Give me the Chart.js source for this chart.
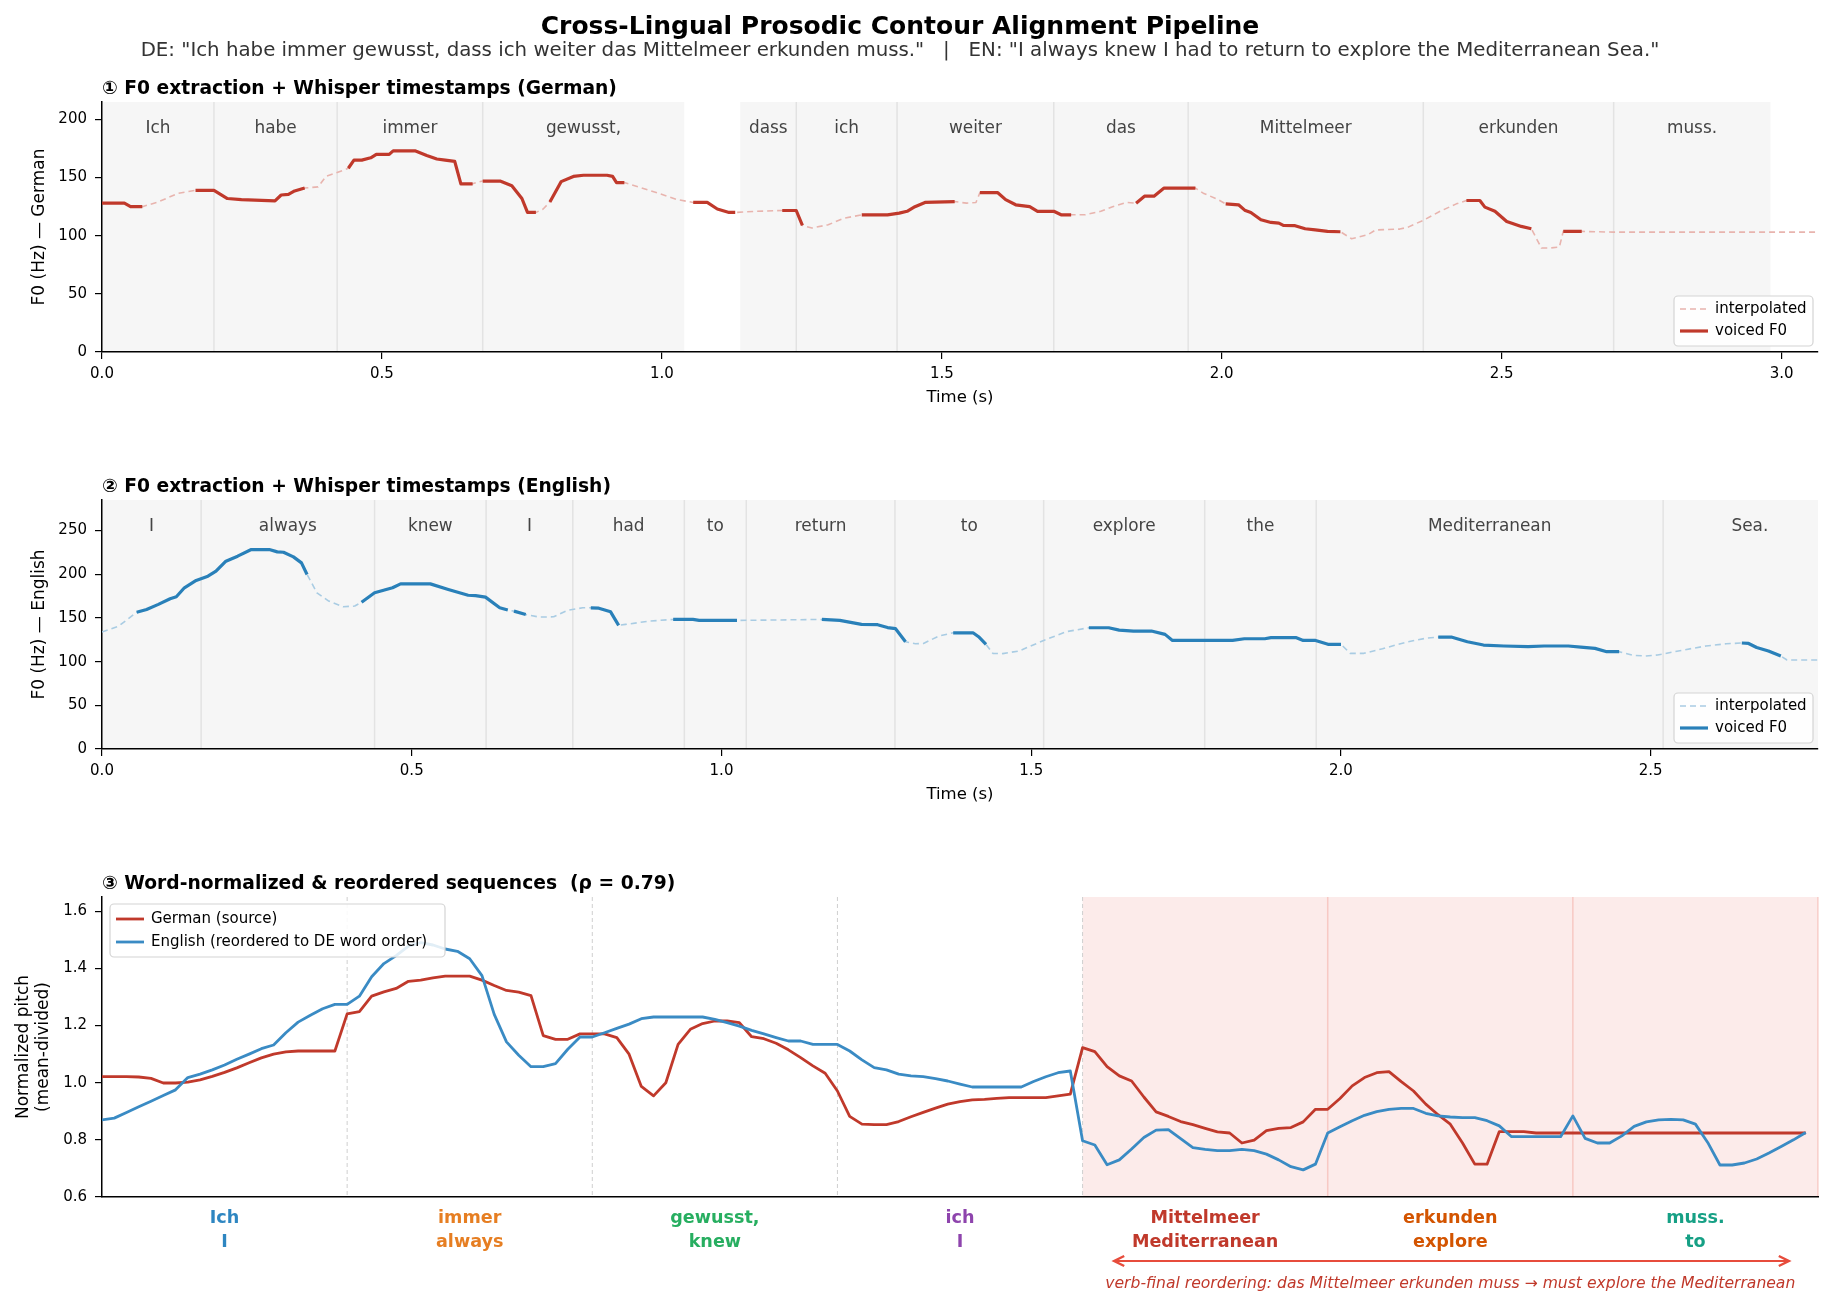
<!DOCTYPE html>
<html>
<head>
<meta charset="utf-8">
<script src="https://cdn.jsdelivr.net/npm/chart.js@4.4.1/dist/chart.umd.min.js"></script>
<style>
  body { margin: 0; background: #fff; width: 1833px; height: 1307px; position: relative; overflow: hidden; font-family: "DejaVu Sans", sans-serif; }
  canvas { position: absolute; left: 0; }
  #title { position: absolute; left: 0; top: 11px; width: 1800px; text-align: center; font-weight: bold; font-size: 25px; color: #000; }
  #subtitle { position: absolute; left: 0; top: 38px; width: 1800px; text-align: center; font-size: 19.8px; color: #333; white-space: pre; }
</style>
</head>
<body>
<canvas id="c1" width="1833" height="430" style="top:0px"></canvas>
<canvas id="c2" width="1833" height="410" style="top:430px"></canvas>
<canvas id="c3" width="1833" height="467" style="top:840px"></canvas>
<div id="title">Cross-Lingual Prosodic Contour Alignment Pipeline</div>
<div id="subtitle">DE: "Ich habe immer gewusst, dass ich weiter das Mittelmeer erkunden muss."   |   EN: "I always knew I had to return to explore the Mediterranean Sea."</div>
<script>
// ---- German F0 contour (s, Hz) ----
const deTime = [
  0.000,0.040,0.051,0.072,0.100,0.136,0.167,0.200,0.224,0.249,
  0.309,0.320,0.333,0.344,0.362,0.386,0.400,0.418,0.440,0.450,
  0.464,0.480,0.490,0.513,0.520,0.559,0.580,0.598,0.613,0.630,
  0.641,0.662,0.671,0.680,0.711,0.732,0.750,0.760,0.775,0.788,
  0.800,0.820,0.842,0.860,0.902,0.912,0.919,0.933,0.958,0.993,
  1.028,1.056,1.081,1.099,1.120,1.131,1.169,1.215,1.240,1.251,
  1.268,1.297,1.325,1.357,1.403,1.424,1.438,1.452,1.470,1.523,
  1.544,1.561,1.568,1.600,1.614,1.632,1.657,1.671,1.700,1.713,
  1.731,1.756,1.784,1.805,1.830,1.847,1.862,1.879,1.897,1.953,
  1.967,1.994,2.007,2.030,2.041,2.052,2.070,2.088,2.102,2.110,
  2.131,2.149,2.167,2.189,2.212,2.232,2.261,2.275,2.318,2.333,
  2.362,2.390,2.419,2.437,2.461,2.470,2.488,2.509,2.535,2.553,
  2.571,2.585,2.603,2.610,2.643,2.700,3.065
];
const deHz = [
  128,128,125,125,129,136.5,139,139,132,131,
  130,135,135.5,138.5,141,142,151,154,158,165,
  165,167,170,170,173,173,169,166,165,164,
  144.6,144.6,146,147,147,143,132,120,120,123,
  129,146.5,151,152,152,151,145.7,145.7,142,136.6,
  131,128.6,128.6,123,120,120,121,121.7,121.7,108.9,
  106.6,109.4,115,118,118,119.4,121,125,128.6,129.4,
  128,128.6,137,137,131,126.6,125,121,121,118,
  118,118,121,125,128.6,128,134,134,141,141,
  136.6,131,127.4,126.6,122,120,113.7,111.4,110.9,108.9,
  108.6,106,105,103.7,103.4,97.4,100.9,105,105.7,107.4,
  113.7,121,127.4,130.3,130.3,124.6,121,112.3,108,106,
  89.4,89.4,90.3,103.7,103.7,103.1,103.1
];
const deVoiced = [
  [0,0.072],[0.167,0.362],[0.440,0.662],[0.680,0.775],[0.800,0.933],[1.056,1.131],
  [1.215,1.251],[1.357,1.523],[1.568,1.731],[1.847,1.953],[2.007,2.212],[2.437,2.553],[2.610,2.643]
];
const deWords = ['Ich','habe','immer','gewusst,','dass','ich','weiter','das','Mittelmeer','erkunden','muss.'];
const deStart = [0.00,0.20,0.42,0.68,1.14,1.24,1.42,1.70,1.94,2.36,2.70];
const deEnd   = [0.20,0.42,0.68,1.04,1.24,1.42,1.70,1.94,2.36,2.70,2.98];

// ---- English F0 contour (s, Hz) ----
const enTime = [
  0.000,0.027,0.056,0.072,0.091,0.110,0.120,0.133,0.152,0.171,
  0.184,0.200,0.219,0.241,0.270,0.283,0.293,0.309,0.322,0.331,
  0.347,0.366,0.389,0.408,0.419,0.440,0.469,0.482,0.530,0.559,
  0.591,0.603,0.619,0.642,0.655,0.660,0.665,0.684,0.706,0.729,
  0.751,0.776,0.789,0.802,0.821,0.834,0.845,0.884,0.922,0.954,
  0.964,1.025,1.080,1.162,1.191,1.226,1.252,1.268,1.281,1.297,
  1.313,1.326,1.351,1.374,1.406,1.415,1.427,1.438,1.454,1.480,
  1.518,1.556,1.593,1.625,1.642,1.665,1.694,1.716,1.728,1.825,
  1.844,1.877,1.887,1.928,1.939,1.959,1.979,2.000,2.015,2.037,
  2.067,2.106,2.139,2.157,2.178,2.204,2.230,2.263,2.302,2.328,
  2.367,2.387,2.410,2.429,2.449,2.472,2.492,2.511,2.550,2.589,
  2.622,2.647,2.658,2.671,2.690,2.710,2.720,2.770
];
const enHz = [
  133.9,140.7,156.5,159.7,165.5,172,174.2,184.5,192.9,197.8,
  203.5,215,220.7,228.3,228.3,225.6,225.2,219.9,213,199.7,
  178.8,169.3,162.8,163.6,168,178.8,184.5,189,189,182.6,
  176,175.6,173.8,161.6,159,158.4,157.8,154,151,151.3,
  158.6,161.6,161.6,161.2,157,141.5,142.6,146.4,148.3,148.3,
  147.2,147.2,147.6,148.3,147.2,142.6,142.3,139,137.7,122.8,
  120.5,120.8,129.3,133,133,128.5,119.8,109.5,109.2,112.1,
  123.6,134.2,138.8,138.8,136.1,135,135,131.2,124.3,124.3,
  126.2,126.2,127.4,127.4,124.3,124.3,119.8,119.8,109.5,109.5,
  114.8,122.4,127,128.1,128.1,122.8,119,117.9,117.1,117.9,
  117.9,116.7,115.2,111.4,111.4,107.2,106.4,107.6,112.9,117.9,
  120.5,121.3,120.8,116.2,112.1,106.4,101.9,101.9
];
const enVoiced = [
  [0.056,0.331],[0.419,0.655],[0.665,0.684],[0.789,0.834],[0.922,1.025],
  [1.162,1.297],[1.374,1.427],[1.593,2.000],[2.157,2.449],[2.647,2.710]
];
const enWords = ['I','always','knew','I','had','to','return','to','explore','the','Mediterranean','Sea.'];
const enStart = [0.00,0.16,0.44,0.62,0.76,0.94,1.04,1.28,1.52,1.78,1.96,2.52];
const enEnd   = [0.16,0.44,0.62,0.76,0.94,1.04,1.28,1.52,1.78,1.96,2.52,2.80];

// ---- Word-normalized sequences (20 samples per word, DE order) ----
const normDe = [
  1.021,1.021,1.021,1.020,1.015,0.999,0.999,1.002,1.010,1.022,1.036,1.052,1.070,1.087,1.100,1.108,1.111,1.111,1.111,1.111,
  1.241,1.249,1.303,1.318,1.330,1.355,1.359,1.367,1.373,1.373,1.373,1.359,1.340,1.323,1.317,1.305,1.165,1.152,1.152,1.171,
  1.171,1.171,1.158,1.100,0.987,0.954,1.000,1.134,1.187,1.207,1.216,1.216,1.210,1.161,1.154,1.138,1.115,1.088,1.059,1.033,
  0.971,0.882,0.855,0.853,0.853,0.864,0.881,0.896,0.911,0.925,0.934,0.940,0.942,0.945,0.948,0.948,0.948,0.948,0.954,0.960,
  1.123,1.109,1.056,1.024,1.006,0.950,0.898,0.882,0.864,0.853,0.840,0.828,0.824,0.789,0.799,0.832,0.840,0.843,0.863,0.907,
  0.907,0.945,0.989,1.018,1.035,1.039,1.004,0.971,0.925,0.888,0.855,0.789,0.715,0.715,0.829,0.829,0.829,0.824,0.824,0.824,
  0.824,0.824,0.824,0.824,0.824,0.824,0.824,0.824,0.824,0.824,0.824,0.824,0.824,0.824,0.824,0.824,0.824,0.824,0.824,0.824
];
const normEn = [
  0.870,0.876,0.896,0.916,0.935,0.955,0.975,1.018,1.030,1.045,1.062,1.082,1.100,1.119,1.132,1.175,1.212,1.236,1.259,1.274,
  1.274,1.303,1.371,1.417,1.445,1.478,1.490,1.482,1.468,1.460,1.434,1.375,1.239,1.143,1.096,1.056,1.056,1.067,1.117,1.160,
  1.160,1.175,1.190,1.205,1.224,1.230,1.230,1.230,1.230,1.230,1.222,1.210,1.198,1.183,1.171,1.158,1.146,1.146,1.134,1.134,
  1.134,1.111,1.080,1.053,1.045,1.030,1.024,1.021,1.014,1.006,0.995,0.985,0.985,0.985,0.985,0.985,1.004,1.021,1.035,1.041,
  0.797,0.782,0.713,0.730,0.768,0.808,0.834,0.836,0.804,0.773,0.767,0.762,0.762,0.767,0.762,0.750,0.730,0.706,0.695,0.715,
  0.824,0.846,0.867,0.886,0.899,0.907,0.910,0.910,0.893,0.884,0.880,0.878,0.878,0.867,0.849,0.811,0.811,0.811,0.811,0.811,
  0.884,0.805,0.789,0.789,0.814,0.847,0.863,0.870,0.872,0.870,0.855,0.791,0.712,0.712,0.719,0.733,0.754,0.777,0.800,0.826
];
const pairDe = ['Ich','immer','gewusst,','ich','Mittelmeer','erkunden','muss.'];
const pairEn = ['I','always','knew','I','Mediterranean','explore','to'];
const pairColors = ['#2e86c1','#e67e22','#27ae60','#8e44ad','#c0392b','#d35400','#16a085'];
const SAMPLES_PER_WORD = 20;
const reorderedFrom = 4; // first reordered word pair

const RED = '#c0392b', RED_LIGHT = '#e8b4ae', BLUE = '#2980b9', BLUE_LIGHT = '#a9cce3', BLUE3 = '#3a8bc4';
const FONT = '"DejaVu Sans"';
Chart.defaults.font.family = 'DejaVu Sans';
Chart.defaults.color = '#000';

function inRanges(t, ranges) {
  return ranges.some(r => t >= r[0] - 1e-9 && t <= r[1] + 1e-9);
}

// ---- plugins ----
const panelTitle = {
  id: 'panelTitle',
  afterDraw(chart, args, opts) {
    const {ctx, chartArea: a} = chart;
    ctx.save();
    ctx.font = 'bold 18.7px ' + FONT;
    ctx.fillStyle = '#000';
    ctx.textAlign = 'left';
    ctx.textBaseline = 'middle';
    ctx.fillText(opts.text, a.left, a.top - 13);
    ctx.restore();
  }
};

// word spans are painted before the axes so the spines stay on top
const wordBands = {
  id: 'wordBands',
  beforeDraw(chart, args, opts) {
    const {ctx, chartArea: a, scales: {x}} = chart;
    ctx.save();
    ctx.beginPath();
    ctx.rect(a.left, a.top, a.width, a.height);
    ctx.clip();
    opts.words.forEach((w, i) => {
      const x0 = x.getPixelForValue(opts.start[i]);
      const x1 = x.getPixelForValue(opts.end[i]);
      ctx.fillStyle = '#f6f6f6';
      ctx.fillRect(x0, a.top, x1 - x0, a.height);
    });
    ctx.strokeStyle = '#e3e3e3';
    ctx.lineWidth = 1.5;
    opts.words.forEach((w, i) => {
      if (i > 0 && Math.abs(opts.start[i] - opts.end[i - 1]) < 1e-6) {
        const px = x.getPixelForValue(opts.start[i]);
        ctx.beginPath();
        ctx.moveTo(px, a.top);
        ctx.lineTo(px, a.bottom);
        ctx.stroke();
      }
    });
    ctx.restore();

    ctx.save();
    ctx.font = '16.9px ' + FONT;
    ctx.fillStyle = '#444';
    ctx.textAlign = 'center';
    ctx.textBaseline = 'middle';
    opts.words.forEach((w, i) => {
      const xc = (x.getPixelForValue(opts.start[i]) + x.getPixelForValue(opts.end[i])) / 2;
      ctx.fillText(w, xc, a.top + 26.5);
    });
    ctx.restore();
  }
};

const lineLegend = {
  id: 'lineLegend',
  afterDraw(chart, args, opts) {
    const {ctx, chartArea: a} = chart;
    const items = opts.order.map(i => chart.data.datasets[i]);
    const bx = opts.corner === 'br' ? a.right - opts.offX - opts.w : a.left + opts.offX;
    const by = opts.corner === 'br' ? a.bottom - opts.offY - opts.h : a.top + opts.offY;
    ctx.save();
    ctx.fillStyle = 'rgba(255,255,255,0.85)';
    ctx.strokeStyle = '#d4d4d4';
    ctx.lineWidth = 1.2;
    ctx.beginPath();
    ctx.roundRect(bx, by, opts.w, opts.h, 4);
    ctx.fill();
    ctx.stroke();
    ctx.font = '15px ' + FONT;
    ctx.textAlign = 'left';
    ctx.textBaseline = 'middle';
    items.forEach((d, k) => {
      const yy = by + opts.first + k * opts.row;
      ctx.strokeStyle = d.borderColor;
      ctx.lineWidth = d.borderWidth;
      ctx.setLineDash(d.borderDash || []);
      ctx.beginPath();
      ctx.moveTo(bx + 6, yy);
      ctx.lineTo(bx + 34, yy);
      ctx.stroke();
      ctx.setLineDash([]);
      ctx.fillStyle = '#000';
      ctx.fillText(d.label, bx + 41, yy);
    });
    ctx.restore();
  }
};

const alignDecor = {
  id: 'alignDecor',
  beforeDraw(chart) {
    const {ctx, chartArea: a, scales: {x}} = chart;
    const n = pairDe.length;
    ctx.save();
    // reordered region
    const r0 = x.getPixelForValue(reorderedFrom * SAMPLES_PER_WORD);
    ctx.fillStyle = 'rgba(231,76,60,0.11)';
    ctx.fillRect(r0, a.top, a.right - r0, a.height);
    ctx.strokeStyle = 'rgba(231,76,60,0.22)';
    ctx.lineWidth = 1.5;
    for (let k = reorderedFrom + 1; k <= n; k++) {
      const px = x.getPixelForValue(k * SAMPLES_PER_WORD);
      ctx.beginPath(); ctx.moveTo(px, a.top); ctx.lineTo(px, a.bottom); ctx.stroke();
    }
    // word boundaries
    ctx.strokeStyle = '#cfcfcf';
    ctx.lineWidth = 1;
    ctx.setLineDash([4, 3]);
    for (let k = 1; k <= reorderedFrom; k++) {
      const px = x.getPixelForValue(k * SAMPLES_PER_WORD);
      ctx.beginPath(); ctx.moveTo(px, a.top); ctx.lineTo(px, a.bottom); ctx.stroke();
    }
    ctx.restore();
  },
  afterDraw(chart) {
    const {ctx, chartArea: a, scales: {x}} = chart;
    ctx.save();
    ctx.font = 'bold 17.6px ' + FONT;
    ctx.textAlign = 'center';
    ctx.textBaseline = 'middle';
    pairDe.forEach((w, k) => {
      const xc = x.getPixelForValue(k * SAMPLES_PER_WORD + SAMPLES_PER_WORD / 2);
      ctx.fillStyle = pairColors[k];
      ctx.fillText(w, xc, a.bottom + 21.5);
      ctx.fillText(pairEn[k], xc, a.bottom + 45.5);
    });
    // reordering arrow
    const xa = x.getPixelForValue(82.5), xb = x.getPixelForValue(137.7), ya = a.bottom + 64;
    ctx.strokeStyle = '#e74c3c';
    ctx.lineWidth = 2.2;
    ctx.beginPath(); ctx.moveTo(xa + 2, ya); ctx.lineTo(xb - 2, ya); ctx.stroke();
    ctx.lineWidth = 2.5;
    ctx.beginPath();
    ctx.moveTo(xa + 11, ya - 5); ctx.lineTo(xa + 1, ya); ctx.lineTo(xa + 11, ya + 5);
    ctx.moveTo(xb - 11, ya - 5); ctx.lineTo(xb - 1, ya); ctx.lineTo(xb - 11, ya + 5);
    ctx.stroke();
    ctx.font = 'italic 15.6px ' + FONT;
    ctx.fillStyle = '#c0392b';
    ctx.fillText('verb-final reordering: das Mittelmeer erkunden muss \u2192 must explore the Mediterranean',
      x.getPixelForValue(110), a.bottom + 87);
    ctx.restore();
  }
};

// ---- axis helpers ----
function yAxis(min, max, step, title, titlePad, fmt) {
  return {
    type: 'linear', min: min, max: max,
    ticks: { stepSize: step, includeBounds: false, color: '#000', font: { size: 15 }, padding: 8, callback: fmt },
    grid: { display: true, drawOnChartArea: false, tickLength: 7, color: '#000', lineWidth: 1.2 },
    border: { display: true, color: '#000', width: 1.5 },
    title: { display: true, text: title, color: '#000', font: { size: 17 }, padding: { top: titlePad, bottom: 0 } },
    afterFit: s => { s.width = 102; }
  };
}
function xTimeAxis(max) {
  return {
    type: 'linear', min: 0, max: max,
    ticks: { stepSize: 0.5, includeBounds: false, color: '#000', font: { size: 15 }, padding: 6, maxRotation: 0,
             callback: v => v.toFixed(1) },
    grid: { display: true, drawOnChartArea: false, tickLength: 7, color: '#000', lineWidth: 1.2 },
    border: { display: true, color: '#000', width: 1.5 },
    title: { display: true, text: 'Time (s)', color: '#000', font: { size: 16.5 }, padding: { top: 0, bottom: 14 } },
    afterFit: s => { s.height = 70; }
  };
}

function f0Chart(id, time, hz, voiced, words, start, end, xmax, ymax, color, light, ytitle, ptitle, padTop, padBottom) {
  return new Chart(document.getElementById(id), {
    type: 'line',
    data: {
      datasets: [
        { label: 'voiced F0', data: time.map((t, i) => ({ x: t, y: inRanges(t, voiced) ? hz[i] : null })),
          borderColor: color, borderWidth: 3.2, spanGaps: false, order: 0 },
        { label: 'interpolated', data: time.map((t, i) => ({ x: t, y: hz[i] })),
          borderColor: light, borderWidth: 1.6, borderDash: [6, 4], order: 1 }
      ]
    },
    options: {
      responsive: false, animation: false, devicePixelRatio: 1,
      layout: { padding: { top: padTop, right: 15, bottom: padBottom, left: 0 } },
      elements: { point: { radius: 0 }, line: { tension: 0, borderJoinStyle: 'round', borderCapStyle: 'butt' } },
      scales: { x: xTimeAxis(xmax), y: yAxis(0, ymax, 50, ytitle, 29, v => String(v)) },
      plugins: {
        legend: { display: false }, tooltip: { enabled: false },
        panelTitle: { text: ptitle },
        wordBands: { words: words, start: start, end: end },
        lineLegend: { order: [1, 0], corner: 'br', offX: 5, offY: 6, w: 139, h: 50, first: 13, row: 22 }
      }
    },
    plugins: [wordBands, panelTitle, lineLegend]
  });
}

f0Chart('c1', deTime, deHz, deVoiced, deWords, deStart, deEnd, 3.065, 215, RED, RED_LIGHT,
  'F0 (Hz) \u2014 German', '\u2460 F0 extraction + Whisper timestamps (German)', 102, 8);
f0Chart('c2', enTime, enHz, enVoiced, enWords, enStart, enEnd, 2.77, 285, BLUE, BLUE_LIGHT,
  'F0 (Hz) \u2014 English', '\u2461 F0 extraction + Whisper timestamps (English)', 70, 21);

// ---- panel 3 ----
const idx = normDe.map((v, i) => i);
new Chart(document.getElementById('c3'), {
  type: 'line',
  data: {
    datasets: [
      { label: 'German (source)', data: idx.map(i => ({ x: i, y: normDe[i] })), borderColor: RED, borderWidth: 2.8, order: 1 },
      { label: 'English (reordered to DE word order)', data: idx.map(i => ({ x: i, y: normEn[i] })), borderColor: BLUE3, borderWidth: 2.8, order: 0 }
    ]
  },
  options: {
    responsive: false, animation: false, devicePixelRatio: 1,
    layout: { padding: { top: 57, right: 15, bottom: 0, left: 0 } },
    elements: { point: { radius: 0 }, line: { tension: 0, borderJoinStyle: 'round' } },
    scales: {
      x: { type: 'linear', min: 0, max: pairDe.length * SAMPLES_PER_WORD,
           ticks: { display: false }, grid: { display: false },
           border: { display: true, color: '#000', width: 1.5 },
           afterFit: s => { s.height = 110; } },
      y: yAxis(0.6, 1.65, 0.2, ['Normalized pitch', '(mean-divided)'], 13, v => v.toFixed(1))
    },
    plugins: {
      legend: { display: false }, tooltip: { enabled: false },
      panelTitle: { text: '\u2462 Word-normalized & reordered sequences  (\u03c1 = 0.79)' },
      lineLegend: { order: [0, 1], corner: 'tl', offX: 8, offY: 7, w: 335, h: 53, first: 15, row: 23 }
    }
  },
  plugins: [alignDecor, panelTitle, lineLegend]
});
</script>
</body>
</html>
